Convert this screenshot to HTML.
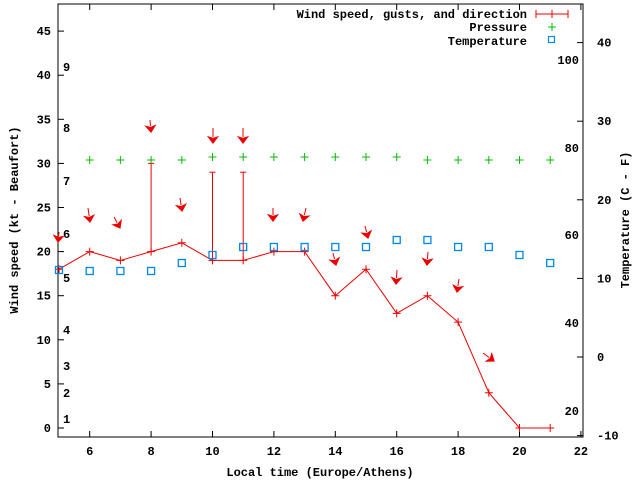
<!DOCTYPE html>
<html><head><meta charset="utf-8"><style>
body{margin:0;background:#fff}
svg{display:block}
text{font-family:"Liberation Mono","DejaVu Sans Mono",monospace;font-size:12px;font-weight:bold;fill:#000}
</style></head><body>
<svg id="s" width="640" height="480" xmlns="http://www.w3.org/2000/svg"></svg>
<script>
const s=document.getElementById('s');let h='';
const L=58,R=583,T=4,B=437;
const X=v=>59+(v-5)*30.7;
const Y=v=>428-v*8.82;
const TY=v=>357-v*7.86;
h+=`<rect x="${L}" y="${T}" width="${R-L}" height="${B-T}" fill="none" stroke="#000"/>`;
for(let v=0;v<=45;v+=5){const y=Y(v);h+=`<line x1="${L}" y1="${y}" x2="${L+6}" y2="${y}" stroke="#000"/><text x="${L-7}" y="${y+4}" text-anchor="end">${v}</text>`;}
for(let v=6;v<=22;v+=2){const x=X(v);h+=`<line x1="${x}" y1="${B}" x2="${x}" y2="${B-6}" stroke="#000"/><line x1="${x}" y1="${T}" x2="${x}" y2="${T+6}" stroke="#000"/><text x="${x}" y="${B+18}" text-anchor="middle">${v}</text>`;}
for(let v=-10;v<=40;v+=10){const y=TY(v);h+=`<line x1="${R}" y1="${y}" x2="${R-6}" y2="${y}" stroke="#000"/><text x="${R+14}" y="${y+4}">${v}</text>`;}
[[20,411],[40,323],[60,235],[80,148],[100,60]].forEach(a=>h+=`<text x="579" y="${a[1]+4}" text-anchor="end">${a[0]}</text>`);
[[1,419],[2,393],[3,366],[4,330],[5,278],[6,234],[7,181],[8,128],[9,67]].forEach(a=>h+=`<text x="63" y="${a[1]+4}">${a[0]}</text>`);
h+=`<text x="320" y="476" text-anchor="middle">Local time (Europe/Athens)</text>`;
h+=`<text transform="translate(18,220) rotate(-90)" text-anchor="middle">Wind speed (kt - Beaufort)</text>`;
h+=`<text transform="translate(629,220) rotate(-90)" text-anchor="middle">Temperature (C - F)</text>`;
h+=`<text x="527" y="18" text-anchor="end">Wind speed, gusts, and direction</text><line x1="536" y1="14" x2="568" y2="14" stroke="#e00"/><line x1="536" y1="10" x2="536" y2="18" stroke="#e00"/><line x1="568" y1="10" x2="568" y2="18" stroke="#e00"/><line x1="552" y1="10" x2="552" y2="18" stroke="#e00"/>`;
h+=`<text x="527" y="31" text-anchor="end">Pressure</text><path d="M548 27h8M552 23v8" stroke="#0b0"/>`;
h+=`<text x="527" y="45" text-anchor="end">Temperature</text><rect x="548.5" y="36.5" width="6" height="6" fill="none" stroke="#08e" stroke-width="1.2"/>`;
const w=[18,20,19,20,21,19,19,20,20,15,18,13,15,12,4,0,0];
h+=`<polyline fill="none" stroke="#e00" points="${w.map((v,i)=>X(i+5)+','+Y(v)).join(' ')}"/>`;
w.forEach((v,i)=>{const x=X(i+5),y=Y(v);h+=`<path d="M${x-4} ${y}h8M${x} ${y-4}v8" stroke="#e00"/>`});
[[8,20,30],[10,19,29],[11,19,29]].forEach(g=>{const x=X(g[0]);h+=`<line x1="${x}" y1="${Y(g[1])}" x2="${x}" y2="${Y(g[2])}" stroke="#e00"/><line x1="${x-3}" y1="${Y(g[2])}" x2="${x+3}" y2="${Y(g[2])}" stroke="#e00"/>`});
const p=[null,160,160,160,160,157,157,157,157,157,157,157,160,160,160,160,160];
p.forEach((y,i)=>{if(y==null)return;const x=X(i+5);h+=`<path d="M${x-4} ${y}h8M${x} ${y-4}v8" stroke="#0b0"/>`});
const t=[270,271,271,271,263,255,247,247,247,247,247,240,240,247,247,255,263];
t.forEach((y,i)=>{const x=X(i+5);h+=`<rect x="${x-3.5}" y="${y-3.5}" width="7" height="7" fill="none" stroke="#08e" stroke-width="1.3"/>`});
const ar=[[59,232,58,242],[88,208,90,222],[114,217,120,228],[150,120,151,132],[180,198,182,211],[213,128,213,143],[243,128,243,143],[273,208,273,221],[306,208,303,221],[333,253,336,265],[365,226,368,238],[397,270,396,284],[428,252,427,265],[459,279,457,292],[483,353,494,361]];
ar.forEach(a=>{const dx=a[2]-a[0],dy=a[3]-a[1],l=Math.hypot(dx,dy),ux=dx/l,uy=dy/l;const bx=a[2]-ux*6,by=a[3]-uy*6;
h+=`<line x1="${a[0]}" y1="${a[1]}" x2="${bx}" y2="${by}" stroke="#e00"/><polygon points="${a[2]},${a[3]} ${bx-uy*4.5},${by+ux*4.5} ${a[2]-ux*4.5},${a[3]-uy*4.5} ${bx+uy*4.5},${by-ux*4.5}" fill="#e00" stroke="#e00" stroke-width="1.2"/>`});
s.innerHTML=h;
</script>
</body></html>
